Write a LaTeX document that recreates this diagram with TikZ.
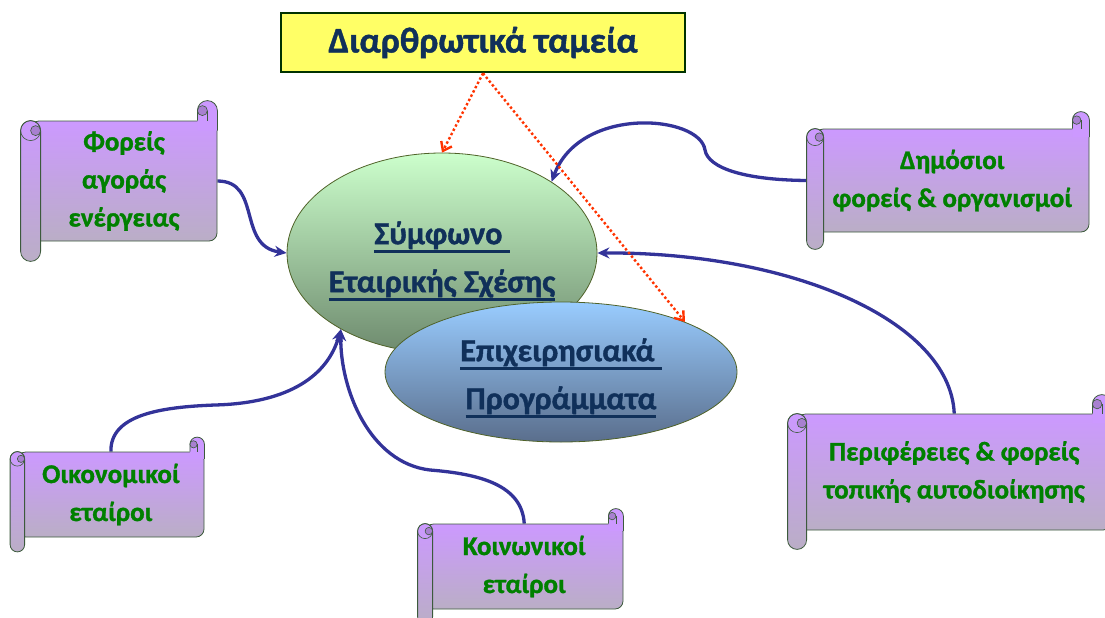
\documentclass[tikz,border=0pt]{standalone}
\usepackage{fontspec}
\setmainfont{Carlito}[BoldFeatures={FakeBold=1.2}]
\usetikzlibrary{positioning,arrows.meta,calc,shapes.geometric}
\pgfdeclarelayer{bg}
\pgfsetlayers{bg,main}
\definecolor{linkblue}{RGB}{51,51,153}
\definecolor{fundred}{RGB}{255,51,0}
\definecolor{fundfill}{RGB}{255,255,102}
\definecolor{fundborder}{RGB}{0,51,0}
\definecolor{titlenavy}{RGB}{16,48,90}
\definecolor{actorgreen}{RGB}{0,128,0}
\definecolor{topicline}{RGB}{79,98,40}
\definecolor{sfstop}{RGB}{204,255,204}
\definecolor{sfsbot}{RGB}{110,138,110}
\definecolor{epptop}{RGB}{153,204,255}
\definecolor{eppbot}{RGB}{90,110,140}
\definecolor{scrolltop}{RGB}{204,153,255}
\definecolor{scrollbot}{RGB}{186,174,198}
\definecolor{scrollcurl}{RGB}{168,128,208}
\definecolor{scrollline}{RGB}{60,90,60}
\tikzset{
	>={Stealth[length=12pt,width=11pt]}
}

% thick underline, keeps a trailing space
\newsavebox{\ulbox}
\newcommand{\ulined}[1]{\sbox{\ulbox}{#1}\rlap{\rule[-8.6pt]{\wd\ulbox}{2.6pt}}\usebox{\ulbox}}

% rolls of a scroll, #1 = body node, #2 = roll width
\newcommand{\scrollrolls}[2]{%
	\pgfmathsetmacro{\rr}{#2/2}%
	\pgfmathsetmacro{\rq}{#2/4}%
	\fill[scrolltop] ($(#1.north east)+(-#2,\rr)$) -- ++(0,-#2) arc[start angle=180, end angle=0, radius=\rr pt] -- ++(0,#2) -- cycle;
	\draw[scrollline, line width=0.8pt] ($(#1.north east)+(-#2,0)$) -- ++(0,-\rr) arc[start angle=180, end angle=0, radius=\rr pt] -- ++(0,#2);
	\filldraw[draw=scrollline, fill=scrollcurl, line width=0.6pt] ($(#1.north east)+(-3*\rq,-\rr)$) circle[radius=\rq pt];
	\draw[scrollline, line width=0.6pt] ($(#1.north east)+(-\rr,-\rr)$) -- ++(0,\rr);
	\draw[draw=scrollline, line width=0.8pt, top color=scrolltop, bottom color=scrollbot, rounded corners=\rr pt] ($(#1.north west)+(-\rr,0)$) rectangle ($(#1.south west)+(\rr,#2)$);
	\draw[scrollline, line width=0.6pt] ($(#1.north west)+(0,\rr)$) circle[radius=\rr pt];
	\filldraw[draw=scrollline, fill=scrollcurl, line width=0.6pt] ($(#1.north west)+(\rq,\rr)$) circle[radius=\rq pt];
}

\begin{document}
\begin{tikzpicture}[
x=1pt, y=-1pt,
every node/.style = {
	align=center,
	inner sep=0pt
},
fundbox/.style = {
	draw=fundborder, line width=2.5pt, fill=fundfill,
	minimum width=404pt, minimum height=59pt,
	text=titlenavy, font=\fontsize{36}{42}\selectfont\bfseries
},
topic/.style = {
	ellipse, draw=topicline, line width=0.8pt,
	inner xsep=-30pt,
	text=titlenavy, font=\fontsize{32}{48}\selectfont\bfseries
},
scrollbox/.style = {
	draw=scrollline, line width=0.8pt, rounded corners=8pt,
	top color=scrolltop, bottom color=scrollbot,
	text=actorgreen, font=\fontsize{27}{38}\selectfont\bfseries
},
link/.style = {
	->, draw=linkblue, line width=3.3pt
},
fund/.style = {
	-{Straight Barb[length=8pt,width=12pt]}, draw=fundred,
	line width=2.4pt, dash pattern=on 2.4pt off 2.4pt
}
]
\useasboundingbox (0,0) rectangle (1105,618);

\node (title) [fundbox] at (483,42.5) {Διαρθρωτικά ταμεία};

\node (sfs) [topic, minimum width=310pt, minimum height=200pt, top color=sfstop, bottom color=sfsbot] at (442,253) {\rule{0pt}{39pt}\ulined{Σύμφωνο\ }\\\ulined{Εταιρικής Σχέσης}};
\node (epp) [topic, minimum width=352pt, minimum height=140pt, top color=epptop, bottom color=eppbot] at (561,372) {\rule{0pt}{35pt}\ulined{Επιχειρησιακά\ }\\\ulined{Προγράμματα}};

\node (foreis) [scrollbox, minimum width=186pt, minimum height=120pt] at (124,181) {Φορείς\\αγοράς\\ενέργειας};
\scrollrolls{foreis}{20}

\node (dimosioi) [scrollbox, minimum width=273.5pt, minimum height=103pt] at (952.25,180.5) {Δημόσιοι\\φορείς \& οργανισμοί};
\scrollrolls{dimosioi}{17}

\node (perifereies) [scrollbox, minimum width=313.5pt, minimum height=116pt] at (954.25,472) {Περιφέρειες \& φορείς\\τοπικής αυτοδιοίκησης};
\scrollrolls{perifereies}{19}

\node (oikonomikoi) [scrollbox, minimum width=186.25pt, minimum height=85pt] at (110.9,494.5) {Οικονομικοί\\εταίροι};
\scrollrolls{oikonomikoi}{14.5}

\node (koinonikoi) [scrollbox, minimum width=197.5pt, minimum height=85pt] at (524.25,566.5) {Κοινωνικοί\\εταίροι};
\scrollrolls{koinonikoi}{15}

\begin{pgfonlayer}{bg}
\draw[link] (foreis.east) .. controls (262,181) and (237,246) .. (sfs.west);
\draw[link] (dimosioi.west) .. controls (745,181) and (708,168) .. (705,150) .. controls (700,115) and (580,105) .. (sfs.33);
\draw[link] (perifereies.north) .. controls (950,320) and (790,252) .. (sfs.east);
\draw[link] (oikonomikoi.north) .. controls (110,415) and (160,407) .. (215,405) .. controls (290,403) and (328,375) .. (sfs.217);
\draw[link] (koinonikoi.north) .. controls (522,485) and (480,474) .. (430,470) .. controls (370,463) and (340,390) .. (sfs.217);
\end{pgfonlayer}

\draw[fund] (title.south) -- (sfs.north);
\draw[fund] (title.south) -- (epp.22);

\end{tikzpicture}
\end{document}
